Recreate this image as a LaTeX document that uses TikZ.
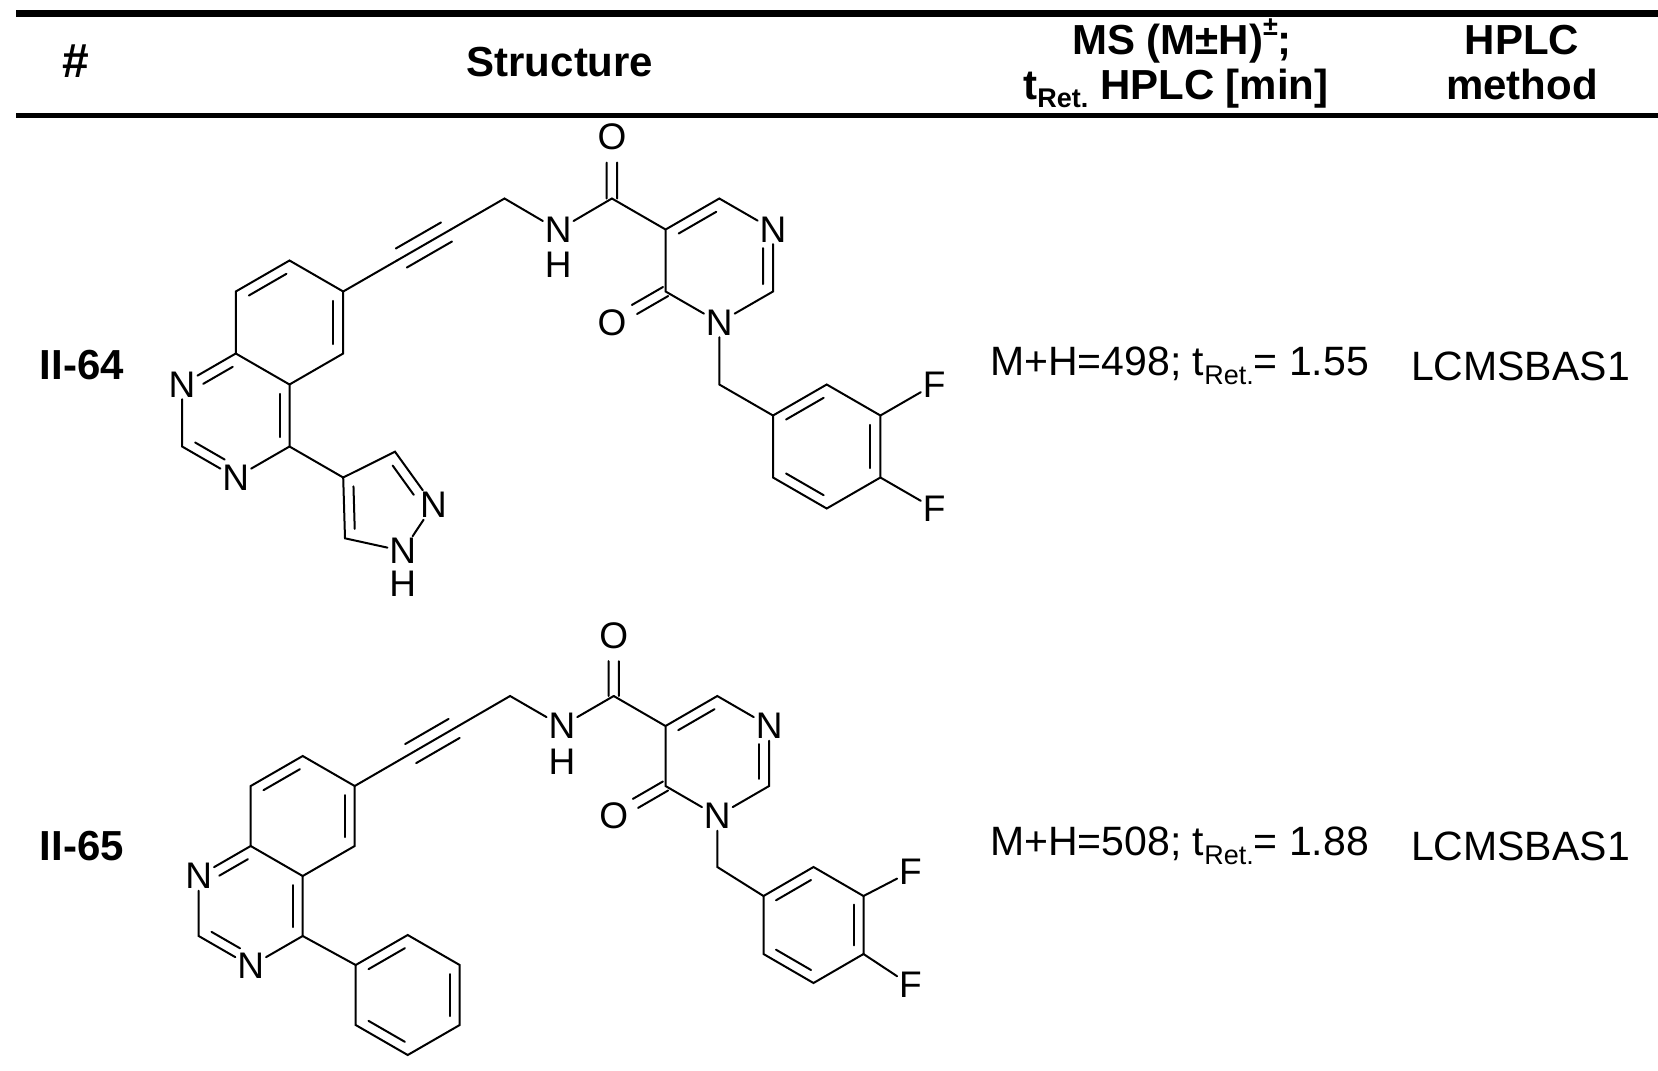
\documentclass[tikz,border=0pt]{standalone}
\usepackage{fontspec}
\setmainfont{Liberation Sans}
\usetikzlibrary{calc}
\newcommand\lsub[1]{\raisebox{-0.4ex}{\fontsize{13.5}{13.5}\selectfont #1}}
\newcommand\lsup[1]{\raisebox{0.9ex}{\fontsize{13.5}{13.5}\selectfont #1}}
\newcommand\atm[3]{\node[atom] (#1) at (#2) {#3};}
\newcommand\cpt[2]{\coordinate (#1) at (#2);}
% inner double-bond line on the right of a->b
\newcommand\dbin[4]{\draw[bond] ($(#1)!#3!(#2)!5pt!-90:(#2)$) -- ($(#2)!#4!(#1)!5pt!90:(#1)$);}
% exterior C=O: two parallel lines
\newcommand\dbl[2]{\coordinate (tmpE) at ($(#1)!1!(#2.center)$);
  \draw[bond] ($(#1)!2.6pt!-90:(#2)$) -- ($(#2)!0.42!(#1)!2.6pt!90:(#1)$);
  \draw[bond] ($(#1)!2.6pt!90:(#2)$) -- ($(#2)!0.42!(#1)!2.6pt!-90:(#1)$);}
\newcommand\trip[2]{\draw[bond] (#1) -- (#2);
  \draw[bond] ($(#1)!0.08!(#2)!5.5pt!-90:(#2)$) -- ($(#2)!0.08!(#1)!5.5pt!90:(#1)$);
  \draw[bond] ($(#1)!0.08!(#2)!5.5pt!90:(#2)$) -- ($(#2)!0.08!(#1)!5.5pt!-90:(#1)$);}
\tikzset{
  atom/.style={inner sep=0.8pt,font=\fontsize{18.5}{18.5}\selectfont},
  bond/.style={line width=1pt,line cap=round},
  head/.style={font=\bfseries\fontsize{21}{21}\selectfont,anchor=base,inner sep=0pt},
  cell/.style={font=\fontsize{20.5}{20.5}\selectfont,anchor=west},
  rowlab/.style={font=\bfseries\fontsize{21}{21}\selectfont},
  rule/.style={line width=#1}
}
\begin{document}
\begin{tikzpicture}[x=0.5pt,y=-0.5pt]
\useasboundingbox (0,0) rectangle (1658,1070);
% table rules
\coordinate (tl) at (16,13.5); \coordinate (tr) at (1658,13.5);
\coordinate (ml) at (16,115.5); \coordinate (mr) at (1658,115.5);
\draw[rule=3.5pt] (tl) -- (tr);
\draw[rule=2.8pt] (ml) -- (mr);
% header
\node[head,font=\bfseries\fontsize{24}{24}\selectfont] (h1) at (76,78) {\#};
\node[head] (h2) at (560,77) {Structure};
\node[head] (h3a) at (1182,55) {MS (M±H)\lsup{±};};
\node[head] (h3b) at (1176,99) {t\lsub{Ret.} HPLC [min]};
\node[head] (h4a) at (1522,55) {HPLC};
\node[head] (h4b) at (1522,99) {method};
% rows
\node[rowlab] (r1) at (82,365) {II-64};
\node[rowlab] (r2) at (82,846) {II-65};
\node[cell] (ms1) at (983,366) {M+H=498; t\lsub{Ret.}= 1.55};
\node[cell] (me1) at (1404,366) {LCMSBAS1};
\node[cell] (ms2) at (983,846) {M+H=508; t\lsub{Ret.}= 1.88};
\node[cell] (me2) at (1404,846) {LCMSBAS1};

% ===== Structure II-64 =====
\cpt{Aa1}{289.5,260.5}\cpt{Aa2}{343.2,291.5}\cpt{Aa3}{343.2,353.5}
\cpt{Aa4}{289.5,384.5}\cpt{Aa5}{235.8,353.5}\cpt{Aa6}{235.8,291.5}
\atm{An1}{182.1,384.5}{N}\cpt{Ac2}{182.1,446.5}\atm{An3}{235.8,477.5}{N}\cpt{Ac4}{289.5,446.5}
\cpt{Aca}{397,260.5}\cpt{Acb}{450.8,229.5}\cpt{Ach}{504.5,198.5}
\atm{Anh}{558.2,230}{N}\atm{Ahh}{558.2,265}{H}
\cpt{Acc}{611.9,198.5}\atm{Aoc}{611.9,136.5}{O}
\cpt{Ar5}{665.6,229.5}\cpt{Ar6}{719.3,198.5}\atm{Arn1}{773,229.5}{N}
\cpt{Ar2}{773,291.5}\atm{Arn3}{719.3,322.5}{N}\cpt{Ar4}{665.6,291.5}\atm{Aro}{611.9,322.5}{O}
\cpt{Ach2}{719.3,384.5}
\cpt{Ab1}{773,415.5}\cpt{Ab2}{826.7,384.5}\cpt{Ab3}{880.4,415.5}
\cpt{Ab4}{880.4,477.5}\cpt{Ab5}{826.7,508.5}\cpt{Ab6}{773,477.5}
\atm{Af3}{934.1,384.5}{F}\atm{Af4}{934.1,508.5}{F}
\cpt{Ap4}{343.2,477.5}\cpt{Ap5}{395,451.7}\atm{Apn2}{433.4,505}{N}
\atm{Apn1}{402.8,551}{N}\cpt{Ap3}{345,538.3}\atm{Aph}{402.8,584}{H}

\draw[bond] (Aa1)--(Aa2)--(Aa3)--(Aa4)--(Aa5)--(Aa6)--cycle;
\dbin{Aa6}{Aa1}{0.15}{0.15}\dbin{Aa2}{Aa3}{0.15}{0.15}
\draw[bond] (Aa5)--(An1)--(Ac2)--(An3)--(Ac4)--(Aa4);
\dbin{An1}{Aa5}{0.3}{0.15}\dbin{Aa4}{Ac4}{0.15}{0.15}\dbin{An3}{Ac2}{0.3}{0.15}
\draw[bond] (Aa2)--(Aca); \trip{Aca}{Acb} \draw[bond] (Acb)--(Ach)--(Anh)--(Acc);
\dbl{Acc}{Aoc}
\draw[bond] (Acc)--(Ar5)--(Ar6)--(Arn1)--(Ar2)--(Arn3)--(Ar4)--(Ar5);
\dbin{Ar5}{Ar6}{0.15}{0.15}\dbin{Arn1}{Ar2}{0.3}{0.12}
\dbl{Ar4}{Aro}
\draw[bond] (Arn3)--(Ach2)--(Ab1);
\draw[bond] (Ab1)--(Ab2)--(Ab3)--(Ab4)--(Ab5)--(Ab6)--cycle;
\dbin{Ab1}{Ab2}{0.15}{0.15}\dbin{Ab3}{Ab4}{0.15}{0.15}\dbin{Ab5}{Ab6}{0.15}{0.15}
\draw[bond] (Ab3)--(Af3); \draw[bond] (Ab4)--(Af4);
\draw[bond] (Ac4)--(Ap4)--(Ap5)--(Apn2)--(Apn1)--(Ap3)--(Ap4);
\dbin{Ap5}{Apn2}{0.15}{0.3}\dbin{Ap3}{Ap4}{0.15}{0.15}

% ===== Structure II-65 =====
\cpt{Ba1}{302.7,756}\cpt{Ba2}{354.7,786}\cpt{Ba3}{354.7,846}
\cpt{Ba4}{302.7,876}\cpt{Ba5}{250.7,846}\cpt{Ba6}{250.7,786}
\atm{Bn1}{198.7,876}{N}\cpt{Bc2}{198.7,936}\atm{Bn3}{250.7,966}{N}\cpt{Bc4}{302.7,936}
\cpt{Bca}{406.5,756}\cpt{Bcb}{458.3,726}\cpt{Bch}{510.1,696}
\atm{Bnh}{561.9,726}{N}\atm{Bhh}{561.9,762}{H}
\cpt{Bcc}{613.7,696}\atm{Boc}{613.7,636}{O}
\cpt{Br5}{665.5,726}\cpt{Br6}{717.3,696}\atm{Brn1}{769.1,726}{N}
\cpt{Br2}{769.1,786}\atm{Brn3}{717.3,816}{N}\cpt{Br4}{665.5,786}\atm{Bro}{613.7,816}{O}
\cpt{Bch2}{717.3,867}
\cpt{Bb1}{763.5,896}\cpt{Bb2}{813.5,867}\cpt{Bb3}{863.5,896}
\cpt{Bb4}{863.5,954}\cpt{Bb5}{813.5,983}\cpt{Bb6}{763.5,954}
\atm{Bf3}{910.4,871.7}{F}\atm{Bf4}{910.4,985}{F}
\cpt{Bp1}{355.7,965}\cpt{Bp2}{407.7,935}\cpt{Bp3}{459.7,965}
\cpt{Bp4}{459.7,1025}\cpt{Bp5}{407.7,1055}\cpt{Bp6}{355.7,1025}

\draw[bond] (Ba1)--(Ba2)--(Ba3)--(Ba4)--(Ba5)--(Ba6)--cycle;
\dbin{Ba6}{Ba1}{0.15}{0.15}\dbin{Ba2}{Ba3}{0.15}{0.15}
\draw[bond] (Ba5)--(Bn1)--(Bc2)--(Bn3)--(Bc4)--(Ba4);
\dbin{Bn1}{Ba5}{0.3}{0.15}\dbin{Ba4}{Bc4}{0.15}{0.15}\dbin{Bn3}{Bc2}{0.3}{0.15}
\draw[bond] (Ba2)--(Bca); \trip{Bca}{Bcb} \draw[bond] (Bcb)--(Bch)--(Bnh)--(Bcc);
\dbl{Bcc}{Boc}
\draw[bond] (Bcc)--(Br5)--(Br6)--(Brn1)--(Br2)--(Brn3)--(Br4)--(Br5);
\dbin{Br5}{Br6}{0.15}{0.15}\dbin{Brn1}{Br2}{0.3}{0.12}
\dbl{Br4}{Bro}
\draw[bond] (Brn3)--(Bch2)--(Bb1);
\draw[bond] (Bb1)--(Bb2)--(Bb3)--(Bb4)--(Bb5)--(Bb6)--cycle;
\dbin{Bb1}{Bb2}{0.15}{0.15}\dbin{Bb3}{Bb4}{0.15}{0.15}\dbin{Bb5}{Bb6}{0.15}{0.15}
\draw[bond] (Bb3)--(Bf3); \draw[bond] (Bb4)--(Bf4);
\draw[bond] (Bc4)--(Bp1);
\draw[bond] (Bp1)--(Bp2)--(Bp3)--(Bp4)--(Bp5)--(Bp6)--cycle;
\dbin{Bp1}{Bp2}{0.15}{0.15}\dbin{Bp3}{Bp4}{0.15}{0.15}\dbin{Bp5}{Bp6}{0.15}{0.15}
\end{tikzpicture}
\end{document}
